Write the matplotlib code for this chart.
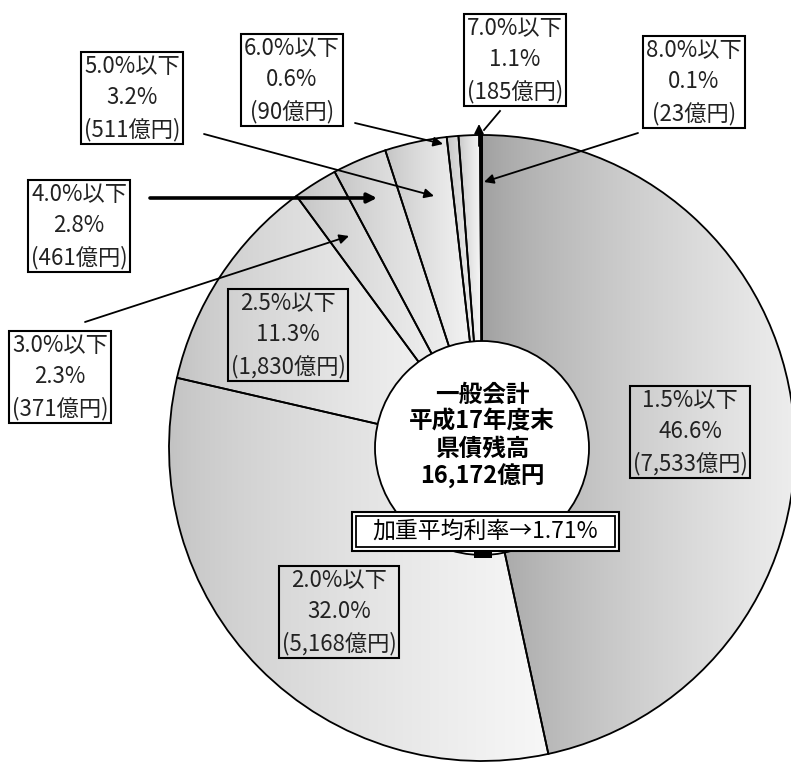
import matplotlib.pyplot as plt
import matplotlib.patches as mpatches
import numpy as np

plt.rcParams['font.family'] = ['Noto Sans CJK JP', 'DejaVu Sans']

## Data: prefectural bond balance by interest-rate band
rates = ['1.5%以下', '2.0%以下', '2.5%以下', '3.0%以下', '4.0%以下',
         '5.0%以下', '6.0%以下', '7.0%以下', '8.0%以下']
shares = [46.6, 32.0, 11.3, 2.3, 2.8, 3.2, 0.6, 1.1, 0.1]
amounts = [7533, 5168, 1830, 371, 461, 511, 90, 185, 23]
center_lines = ['一般会計', '平成17年度末', '県債残高', '16,172億円']
avg_rate = '加重平均利率→1.71%'

## Layout (pixel coords, origin top-left)
W, H = 791, 764
pie_c = (482, 448)
pie_r = 313
hole_r = 107

# label box centres, and leader arrows (start -> tip)
label_pos = [(690, 432), (339, 612), (288, 335), (60, 377), (79, 226),
             (132, 98), (292, 80), (515, 60), (694, 82)]
arrows = {3: ((85, 322), (349, 236), 1.3),
          4: ((150, 198), (377, 198), 2.6),
          5: ((204, 134), (434, 196), 1.3),
          6: ((355, 123), (443, 144), 1.3),
          8: ((638, 133), (484, 182), 1.3)}

# grey ramp (left edge, right edge) of each wedge
ramps = [(0.62, 0.93)] + [(0.76, 0.97)] * 8


def P(px, py):
    return (px, H - py)


fig = plt.figure(figsize=(W / 100, H / 100), dpi=100)
ax = fig.add_axes([0, 0, 1, 1])

wedges, _ = ax.pie(shares, center=P(*pie_c), radius=pie_r, startangle=90,
                   counterclock=False,
                   wedgeprops=dict(facecolor='none', edgecolor='black', linewidth=1.3))

# horizontal grey gradient inside every wedge, light towards its right side
grad = np.linspace(0, 1, 256).reshape(1, -1) ** 0.7
for w, (g0, g1) in zip(wedges, ramps):
    t = np.radians(np.linspace(w.theta1, w.theta2, 200))
    xs = np.concatenate([[w.center[0]], w.center[0] + w.r * np.cos(t)])
    ys = np.concatenate([[w.center[1]], w.center[1] + w.r * np.sin(t)])
    g = g0 + (g1 - g0) * grad
    img = ax.imshow(np.dstack([g, g, g]), extent=(xs.min(), xs.max(), ys.min(), ys.max()),
                    aspect='auto', zorder=0.5, interpolation='bilinear')
    img.set_clip_path(w)

# white hole in the middle
ax.add_patch(mpatches.Circle(P(*pie_c), hole_r, facecolor='white',
                             edgecolor='black', linewidth=1.3, zorder=3))
ax.text(*P(pie_c[0], 436), '\n'.join(center_lines), ha='center', va='center',
        fontsize=17, fontweight='bold', linespacing=1.15, zorder=4)

# weighted-average box with double border
ax.add_patch(mpatches.Rectangle(P(352, 551), 267, 39, facecolor='white',
                                edgecolor='black', linewidth=1.5, zorder=5))
ax.add_patch(mpatches.Rectangle(P(356, 547), 259, 31, facecolor='none',
                                edgecolor='black', linewidth=1.3, zorder=5))
ax.text(*P(485, 531), avg_rate, ha='center', va='center', fontsize=16.5, zorder=6)
ax.add_patch(mpatches.Rectangle(P(474, 558), 18, 6, facecolor='black',
                                edgecolor='none', zorder=5))

# slice labels
for i, (r, s, a) in enumerate(zip(rates, shares, amounts)):
    txt = f'{r}\n{s:.1f}%\n({a:,}億円)'
    ax.text(*P(*label_pos[i]), txt, ha='center', va='center', fontsize=16,
            linespacing=1.45, color='#222222', zorder=7,
            bbox=dict(boxstyle='square,pad=0.12', facecolor='none',
                      edgecolor='black', linewidth=1.5))

for i, (start, tip, lw) in arrows.items():
    ax.annotate('', xy=P(*tip), xytext=P(*start), zorder=8,
                arrowprops=dict(arrowstyle='-|>', color='black', lw=lw,
                                mutation_scale=14, shrinkA=0, shrinkB=0))

# the 7.0% leader bends onto the top of its thin slice
ax.plot(*zip(P(500, 111), P(484, 130)), color='black', lw=1.3, zorder=8)
ax.annotate('', xy=P(479, 124), xytext=P(479, 146), zorder=8,
            arrowprops=dict(arrowstyle='-|>', color='black', lw=1.3,
                            mutation_scale=14, shrinkA=0, shrinkB=0))

ax.set_xlim(0, W)
ax.set_ylim(0, H)
ax.set_aspect('equal')
ax.axis('off')

plt.savefig('out.png', dpi=100, facecolor='white')
